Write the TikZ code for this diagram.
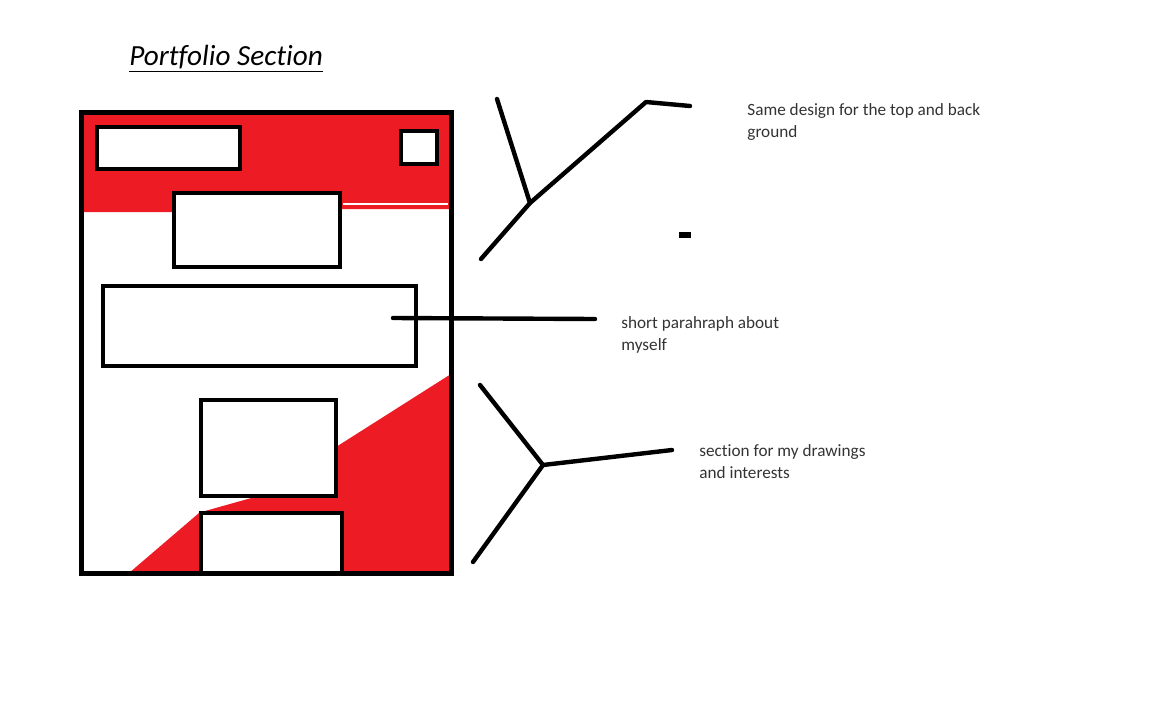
\documentclass[tikz,border=0pt]{standalone}
\usepackage{fontspec}
\setmainfont{Carlito}[Ligatures=NoCommon]
\definecolor{paintred}{HTML}{ED1C24}
\definecolor{ink}{HTML}{000000}
\definecolor{note}{HTML}{333333}

\begin{document}
\begin{tikzpicture}[x=0.5pt,y=-0.5pt,
        panel/.style={draw=ink,line width=2pt,fill=white},
        frame/.style={draw=ink,line width=2.5pt},
        pen/.style={draw=ink,line width=2.2pt,line cap=round,line join=round},
        label/.style={anchor=base west,inner sep=0pt,align=left,text=note,
          font=\fontsize{8.6}{11}\selectfont}
      ]
        \useasboundingbox (0,0) rectangle (1152,702);
        % title
        \node[anchor=base west,inner sep=0pt,font=\fontsize{14.6}{17}\selectfont\itshape]
          (title) at (129,65) {\underline{Portfolio Section}};
        % red header band and lower wedge
        \fill[paintred] (81,112) -- (451,112) -- (451,209) -- (340,209) -- (340,193)
          -- (174,193) -- (174,212) -- (81,212) -- cycle;
        \draw[white,line width=0.6pt] (343,204) -- (448,204);
        \fill[paintred] (129,573) -- (199,513) -- (205,511) -- (262,495) -- (336,495)
          -- (336,447) -- (451,374) -- (451,573) -- cycle;
        % page boxes
        \draw[panel] (97,127) rectangle (240,169);
        \draw[panel] (401,131) rectangle (437,164);
        \draw[panel] (174,193) rectangle (340,267);
        \draw[panel] (103,286) rectangle (416,366);
        \draw[panel] (201,400) rectangle (336,496);
        \draw[panel] (201,513) rectangle (342,573);
        \draw[frame] (81,112) rectangle (451,573);
        % notes (base = last line)
        \node[label] (design) at (747,137) {Same design for the top and back\\ground};
        \node[label] (para) at (621,350) {short parahraph about\\myself};
        \node[label] (draws) at (699,478) {section for my drawings\\and interests};
        % pointer strokes
        \coordinate (topfork) at (530,203);
        \coordinate (lowfork) at (543,465);
        \draw[pen] (497,99) -- (topfork);
        \draw[pen] (481,259) -- (topfork) -- (646,102) -- (690,106);
        \fill[ink] (679,232) rectangle (691,238);
        \draw[pen] (393,318) -- (595,319);
        \draw[pen] (480,385) -- (lowfork) -- (473,562);
        \draw[pen] (lowfork) -- (672,450);
      \end{tikzpicture}
\end{document}
